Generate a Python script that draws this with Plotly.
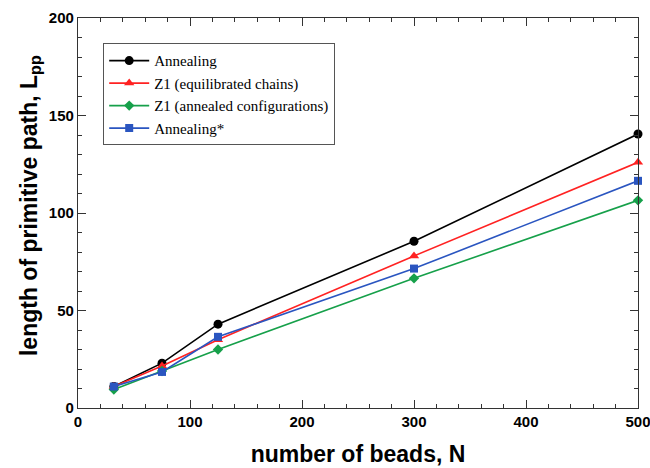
import plotly.graph_objects as go

# dados
n_beads = [32, 75, 125, 300, 500]
annealing = [11, 23, 43, 85.5, 140.5]
z1_equil = [11, 21.5, 35, 78, 126]
z1_annealed = [9.5, 19, 30, 66.5, 106.5]
annealing_star = [11, 18.5, 36.5, 71.5, 116.5]

series = [
    ("Annealing", annealing, "black", "circle", 9),
    ("Z1 (equilibrated chains)", z1_equil, "#ff2222", "triangle-up", 9),
    ("Z1 (annealed configurations)", z1_annealed, "#16a04a", "diamond", 8),
    ("Annealing*", annealing_star, "#2a55c0", "square", 8),
]

fonte_titulo = dict(family="Liberation Sans", size=23, color="black", weight="bold")

fig = go.Figure()
for nome, vals, cor, simb, tam in series:
    fig.add_trace(go.Scatter(
        x=n_beads, y=vals, mode="lines+markers", name=nome,
        line=dict(color=cor, width=1.6),
        marker=dict(color=cor, symbol=simb, size=tam),
        cliponaxis=False,
    ))

eixo = dict(
    showline=True, linecolor="#333", linewidth=1.2, mirror="ticks",
    ticks="inside", ticklen=8, tickcolor="#333", showgrid=False, zeroline=False,
    automargin=False, ticklabeloverflow="allow",
    tickfont=dict(family="Liberation Sans", size=15, color="black", weight="bold"),
    minor=dict(ticks="inside", ticklen=4, tickcolor="#333"),
)

fig.update_layout(
    width=650, height=468,
    margin=dict(l=78, r=12, t=18, b=60),
    plot_bgcolor="white", paper_bgcolor="white",
    xaxis=dict(eixo, range=[0, 500], dtick=100,
               title=dict(text="number of beads, N", standoff=16, font=fonte_titulo)),
    yaxis=dict(eixo, range=[0, 200], dtick=50),
    # título do eixo y como anotação, um pouco acima do centro como no original
    annotations=[dict(
        text="length of primitive path, L<sub>pp</sub>", textangle=-90,
        xref="paper", yref="paper", x=-0.086, y=0.52,
        xanchor="center", yanchor="middle", showarrow=False, font=fonte_titulo,
    )],
    legend=dict(
        x=0.045, y=0.935, xanchor="left", yanchor="top",
        bordercolor="#555", borderwidth=1, bgcolor="white",
        font=dict(family="Liberation Serif", size=15, color="black"),
        tracegroupgap=0, itemwidth=40,
    ),
    showlegend=True,
)

# tira a margem padrão do body para a figura ocupar a janela inteira
fig.write_html("out.html", config={"displayModeBar": False},
               post_script="document.body.style.margin='0';")
